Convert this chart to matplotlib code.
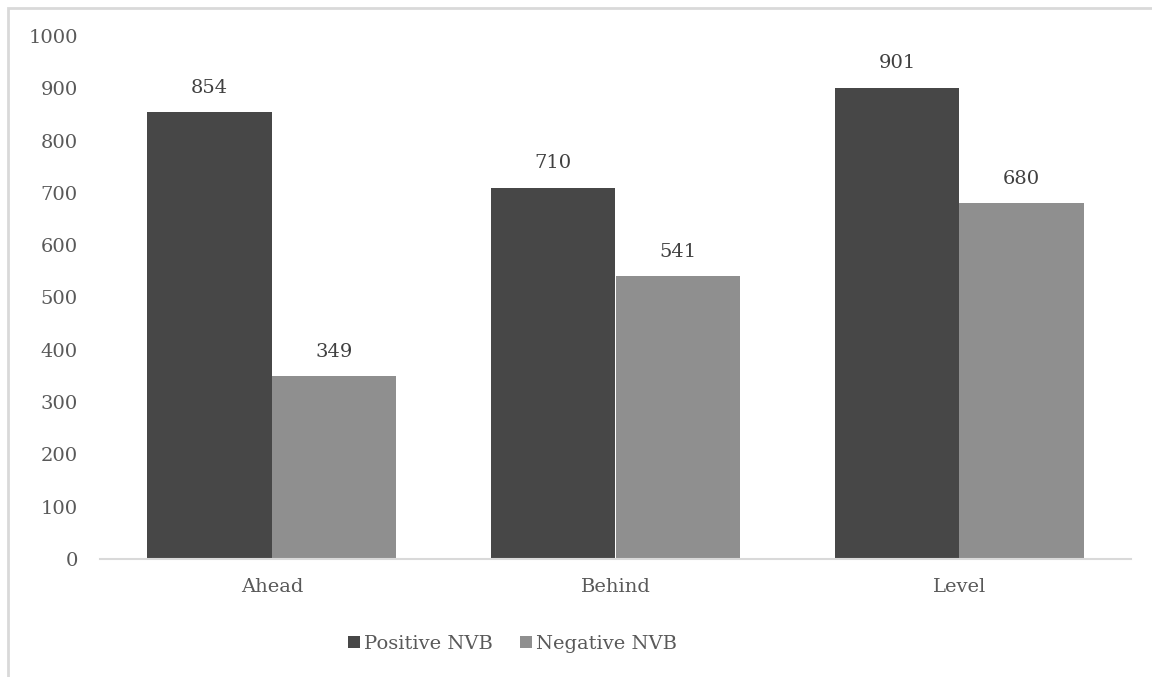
import matplotlib
matplotlib.use("Agg")
import matplotlib.pyplot as plt
import numpy as np
from matplotlib.patches import Rectangle

# Данные
categories = ["Ahead", "Behind", "Level"]
positive_nvb = [854, 710, 901]
negative_nvb = [349, 541, 680]
series_names = ["Positive NVB", "Negative NVB"]
y_ticks = [0, 100, 200, 300, 400, 500, 600, 700, 800, 900, 1000]

# Оформление
dark_color = "#474747"
light_color = "#8f8f8f"
text_color = "#595959"
line_color = "#d9d9d9"

plt.rcParams["font.family"] = ["DejaVu Serif"]
plt.rcParams["font.size"] = 14

fig = plt.figure(figsize=(11.52, 6.77), dpi=100)
ax = fig.add_axes([100 / 1152, 1 - 559 / 677, 1031 / 1152, 523 / 677])

# Рамка вокруг всей диаграммы
fig.patches.append(Rectangle((8 / 1152, -0.1), 1.2, 1 - 8 / 677 + 0.1,
                             transform=fig.transFigure, fill=False,
                             edgecolor=line_color, linewidth=2))

x = np.arange(len(categories))
width = 0.362

bars_pos = ax.bar(x - width / 2, positive_nvb, width, color=dark_color,
                  label=series_names[0])
bars_neg = ax.bar(x + width / 2, negative_nvb, width, color=light_color,
                  label=series_names[1])

for bars in (bars_pos, bars_neg):
    for b in bars:
        ax.annotate(f"{b.get_height():.0f}",
                    (b.get_x() + b.get_width() / 2, b.get_height()),
                    xytext=(0, 11), textcoords="offset points",
                    ha="center", va="bottom", color="#404040", fontsize=14)

ax.set_xlim(-0.5, len(categories) - 0.5)
ax.set_ylim(0, 1000)
ax.set_yticks(y_ticks)
ax.set_xticks(x)
ax.set_xticklabels(categories)

for side in ("top", "right", "left"):
    ax.spines[side].set_visible(False)
ax.spines["bottom"].set_color(line_color)
ax.spines["bottom"].set_linewidth(1.5)

ax.tick_params(axis="both", length=0, colors=text_color, labelsize=14)
ax.tick_params(axis="y", pad=16)
ax.tick_params(axis="x", pad=14)

leg = ax.legend(loc="center", bbox_to_anchor=(0.4, -0.162), ncol=2,
                frameon=False, handlelength=0.6, handleheight=0.6,
                handletextpad=0.2, columnspacing=1.4, fontsize=14)
for t in leg.get_texts():
    t.set_color(text_color)

fig.savefig("out.png", dpi=100)
